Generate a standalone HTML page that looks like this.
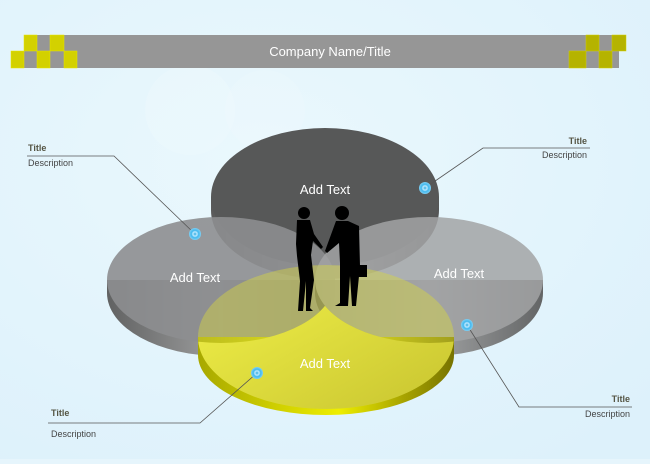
<!DOCTYPE html>
<html><head><style>
body{margin:0;width:650px;height:459px;overflow:hidden;background:#e6f5fc;font-family:"Liberation Sans",sans-serif}
</style></head><body>
<svg width="650" height="459" viewBox="0 0 650 459" xmlns="http://www.w3.org/2000/svg" font-family="Liberation Sans, sans-serif">
<defs>
<radialGradient id="bg" cx="0.4" cy="0.35" r="0.8"><stop offset="0" stop-color="#eaf8fd"/><stop offset="1" stop-color="#ddf1fb"/></radialGradient>
<linearGradient id="gside" x1="0" x2="1"><stop offset="0" stop-color="#5a5a5a"/><stop offset="0.5" stop-color="#9a9a9a"/><stop offset="1" stop-color="#555"/></linearGradient>
<linearGradient id="yside" x1="0" x2="1"><stop offset="0" stop-color="#a8a800"/><stop offset="0.55" stop-color="#eeee00"/><stop offset="0.8" stop-color="#a8a400"/><stop offset="1" stop-color="#777300"/></linearGradient>
<linearGradient id="yface" x1="0" y1="0" x2="1" y2="1"><stop offset="0" stop-color="#f4f44a"/><stop offset="1" stop-color="#c8c430"/></linearGradient>
<radialGradient id="dot"><stop offset="0" stop-color="#2aa8e0"/><stop offset="0.35" stop-color="#bfeaff"/><stop offset="0.6" stop-color="#41b8ee"/><stop offset="1" stop-color="#7fd0f5"/></radialGradient>
<mask id="outside">
<rect width="650" height="459" fill="#fff"/>
<ellipse cx="221" cy="280" rx="114" ry="63" fill="#000"/>
<ellipse cx="429" cy="280" rx="114" ry="63" fill="#000"/>
</mask>
</defs>
<rect width="650" height="459" fill="url(#bg)"/>
<circle cx="190" cy="110" r="45" fill="#fff" opacity="0.12"/>
<circle cx="265" cy="110" r="40" fill="#fff" opacity="0.1"/>
<!-- header -->
<rect x="24" y="35" width="595" height="33" fill="#969696"/>
<g fill="#d3d100" stroke="#e8e600" stroke-width="0.5">
<rect x="24" y="35" width="13" height="16"/>
<rect x="50" y="35" width="14" height="16"/>
<rect x="11" y="51" width="13" height="17"/><rect x="37" y="51" width="13" height="17"/><rect x="64" y="51" width="13" height="17"/>
</g>
<g fill="#b5b300" stroke="#d3d100" stroke-width="0.5">
<rect x="586" y="35" width="13" height="16"/><rect x="612" y="35" width="14" height="16"/>
<rect x="569" y="51" width="17" height="17"/><rect x="599" y="51" width="13" height="17"/>
</g>
<text x="330" y="56" fill="#fff" font-size="13" text-anchor="middle">Company Name/Title</text>
<!-- top disk -->
<path d="M211 197 v13 a114 69 0 0 0 228 0 v-13 z" fill="url(#gside)"/>
<ellipse cx="325" cy="197" rx="114" ry="69" fill="#575858"/>
<!-- left disk -->
<path d="M107 280 v13 a114 63 0 0 0 228 0 v-13 z" fill="url(#gside)" opacity="0.95"/>
<ellipse cx="221" cy="280" rx="114" ry="63" fill="#8d8e90" opacity="0.9"/>
<!-- right disk -->
<path d="M315 280 v13 a114 63 0 0 0 228 0 v-13 z" fill="url(#gside)" opacity="0.9"/>
<ellipse cx="429" cy="280" rx="114" ry="63" fill="#a2a3a5" opacity="0.85"/>
<!-- bottom yellow -->
<path d="M198 337 v18 a128 60 0 0 0 256 0 v-18 z" fill="url(#yside)"/>
<ellipse cx="326" cy="337" rx="128" ry="72" fill="#d8d640" opacity="0.45"/>
<ellipse cx="326" cy="337" rx="128" ry="72" fill="url(#yface)" mask="url(#outside)"/>
<!-- figures -->
<g fill="#000">
<circle cx="304" cy="213" r="6"/>
<path d="M297 220 h13 l4 14 l9 13 l-2 2 l-8 -8 l-2 14 l3 25 l-4 28 l3 3 h-7 l0-30 l-3 30 h-5 l2-30 l-3-25 l-1-12 z"/>
<circle cx="342" cy="213" r="7"/>
<path d="M336 221 h12 l11 5 l1 40 l-4 40 h-4 l-2-30 l-2 30 h-13 l5-3 l0-40 l-1-20 l-12 10 l-2-2 z"/>
<rect x="355" y="265" width="12" height="12"/>
</g>
<text x="325" y="194" fill="#fff" font-size="13" text-anchor="middle">Add Text</text>
<text x="195" y="282" fill="#fff" font-size="13" text-anchor="middle">Add Text</text>
<text x="459" y="278" fill="#fff" font-size="13" text-anchor="middle">Add Text</text>
<text x="325" y="368" fill="#fff" font-size="13" text-anchor="middle">Add Text</text>
<!-- callouts -->
<g stroke="#555" stroke-width="0.8" fill="none">
<path d="M27 156 H114 L195 234"/>
<path d="M590 148 H483 L425 188"/>
<path d="M632 407 H519 L467 325"/>
<path d="M48 423 H200 L257 373"/>
</g>
<g fill="url(#dot)">
<circle cx="195" cy="234" r="6"/><circle cx="425" cy="188" r="6"/><circle cx="467" cy="325" r="6"/><circle cx="257" cy="373" r="6"/>
</g>
<g font-size="9" fill="#444">
<text x="28" y="151" font-weight="bold" fill="#554">Title</text>
<text x="28" y="166">Description</text>
<text x="587" y="144" font-weight="bold" text-anchor="end" fill="#554">Title</text>
<text x="587" y="158" text-anchor="end">Description</text>
<text x="630" y="402" font-weight="bold" text-anchor="end" fill="#554">Title</text>
<text x="630" y="417" text-anchor="end">Description</text>
<text x="51" y="416" font-weight="bold" fill="#554">Title</text>
<text x="51" y="437">Description</text>
</g>
</svg>
</body></html>
